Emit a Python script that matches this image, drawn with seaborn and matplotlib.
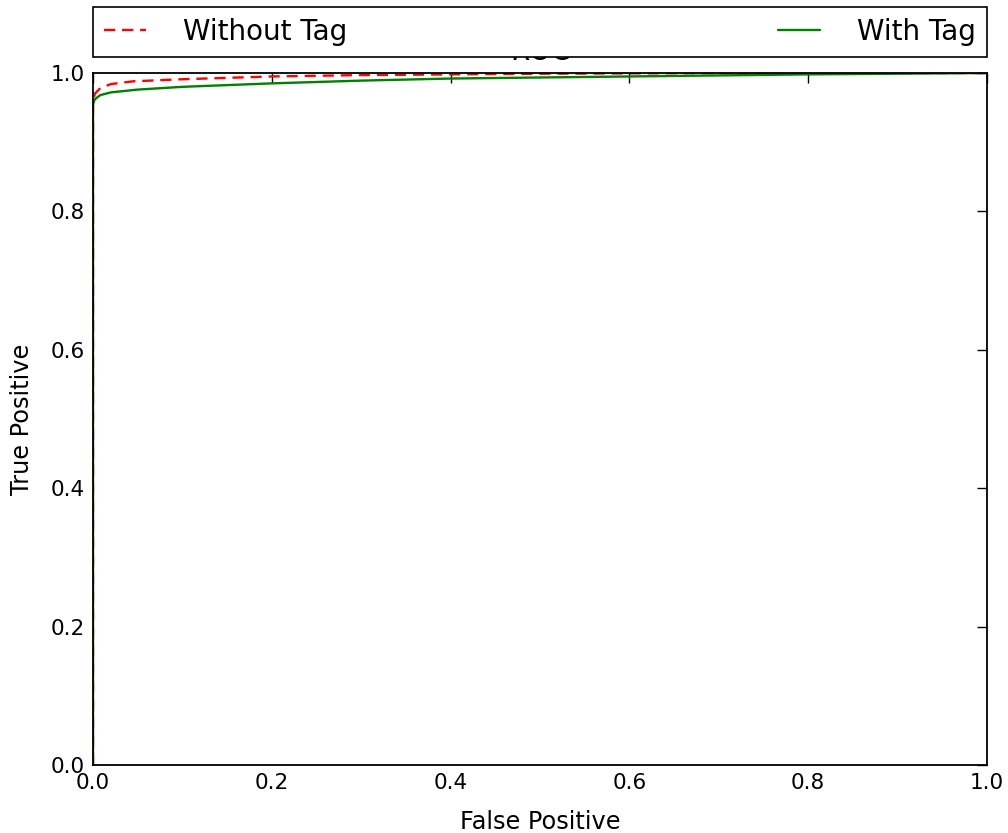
import pandas as pd
import matplotlib
matplotlib.use("Agg")
import matplotlib.pyplot as plt
import seaborn as sns

# ROC points
fpr_without = [0.0, 0.0, 0.002, 0.008, 0.02, 0.045, 0.1, 0.2, 0.3, 0.5, 0.7, 1.0]
tpr_without = [0.0, 0.96, 0.970, 0.978, 0.984, 0.988, 0.991, 0.995, 0.997, 0.999, 1.0, 1.0]

fpr_with = [0.0, 0.0, 0.002, 0.008, 0.02, 0.05, 0.1, 0.2, 0.3, 0.4, 0.6, 0.8, 1.0]
tpr_with = [0.0, 0.955, 0.962, 0.968, 0.972, 0.976, 0.980, 0.985, 0.989, 0.992, 0.995, 0.998, 1.0]

ticks = [0.0, 0.2, 0.4, 0.6, 0.8, 1.0]

sns.set_style("white")
plt.rcParams['font.family'] = ['DejaVu Sans']
plt.rcParams['lines.scale_dashes'] = False
plt.rcParams['text.color'] = 'black'
plt.rcParams['axes.labelcolor'] = 'black'

df_without = pd.DataFrame({'fpr': fpr_without, 'tpr': tpr_without})
df_with = pd.DataFrame({'fpr': fpr_with, 'tpr': tpr_with})

fig = plt.figure(figsize=(10.08, 8.33), dpi=100)
ax = fig.add_axes([93 / 1008, 1 - 765 / 833, 894 / 1008, 692 / 833])

sns.lineplot(data=df_without, x='fpr', y='tpr', ax=ax, estimator=None, sort=False,
             color='red', linestyle=(0, (8, 5)), linewidth=1.7, label='Without Tag')
sns.lineplot(data=df_with, x='fpr', y='tpr', ax=ax, estimator=None, sort=False,
             color=(0, 0.5, 0), linewidth=1.7, label='With Tag')

ax.set_xlim(0, 1)
ax.set_ylim(0, 1)
ax.set_xticks(ticks)
ax.set_yticks(ticks)
ax.set_xticklabels([f"{t:.1f}" for t in ticks])
ax.set_yticklabels([f"{t:.1f}" for t in ticks])
ax.tick_params(direction='in', length=7, width=1, top=True, right=True,
               labelsize=15.5, colors='black', pad=6)
for s in ax.spines.values():
    s.set_color('black')
    s.set_linewidth(1.3)

ax.set_title('ROC', fontsize=20, pad=9)
ax.set_xlabel('False Positive', fontsize=17.3, labelpad=12)
ax.set_ylabel('True Positive', fontsize=17.3, labelpad=12)

leg = ax.legend(bbox_to_anchor=(0, 1.023, 1, 0.07), loc='lower left', ncol=2,
                mode='expand', borderaxespad=0, fontsize=20, handlelength=1.5,
                handletextpad=1.35, fancybox=False, framealpha=1)
leg.get_frame().set_edgecolor('black')
leg.get_frame().set_linewidth(1.2)

fig.savefig('out.png', dpi=100)
